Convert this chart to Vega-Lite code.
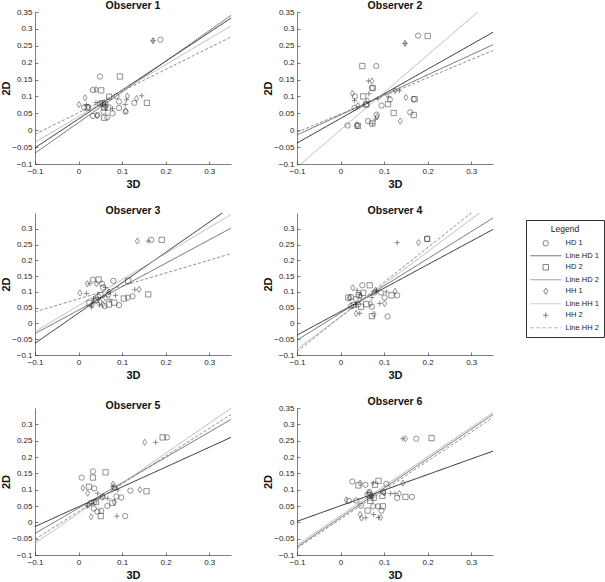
{
 "$schema": "https://vega.github.io/schema/vega-lite/v6.json",
 "background": "white",
 "padding": {"left": 0, "top": 0, "right": 0, "bottom": 0},
 "data": {"values": [
  {"obs":1,"series":"HD 1","x":0.188,"y":0.268},{"obs":1,"series":"HD 1","x":0.049,"y":0.159},{"obs":1,"series":"HD 1","x":0.033,"y":0.119},{"obs":1,"series":"HD 1","x":0.087,"y":0.101},{"obs":1,"series":"HD 1","x":0.128,"y":0.081},{"obs":1,"series":"HD 1","x":0.013,"y":0.067},{"obs":1,"series":"HD 1","x":0.049,"y":0.079},{"obs":1,"series":"HD 1","x":0.057,"y":0.055},{"obs":1,"series":"HD 1","x":0.093,"y":0.085},{"obs":1,"series":"HD 1","x":0.093,"y":0.066},{"obs":1,"series":"HD 1","x":0.078,"y":0.05},{"obs":1,"series":"HD 1","x":0.066,"y":0.038},{"obs":1,"series":"HD 1","x":0.033,"y":0.042},{"obs":1,"series":"HD 1","x":0.043,"y":0.045},{"obs":1,"series":"HD 1","x":0.108,"y":0.055},
  {"obs":1,"series":"HD 2","x":0.095,"y":0.159},{"obs":1,"series":"HD 2","x":0.052,"y":0.118},{"obs":1,"series":"HD 2","x":0.07,"y":0.099},{"obs":1,"series":"HD 2","x":0.157,"y":0.081},{"obs":1,"series":"HD 2","x":0.021,"y":0.067},{"obs":1,"series":"HD 2","x":0.061,"y":0.076},{"obs":1,"series":"HD 2","x":0.059,"y":0.067},{"obs":1,"series":"HD 2","x":0.068,"y":0.067},{"obs":1,"series":"HD 2","x":0.059,"y":0.037},{"obs":1,"series":"HD 2","x":0.055,"y":0.08},
  {"obs":1,"series":"HH 1","x":0.171,"y":0.265},{"obs":1,"series":"HH 1","x":0.04,"y":0.12},{"obs":1,"series":"HH 1","x":0.015,"y":0.096},{"obs":1,"series":"HH 1","x":0.112,"y":0.101},{"obs":1,"series":"HH 1","x":0.133,"y":0.094},{"obs":1,"series":"HH 1","x":0.001,"y":0.076},{"obs":1,"series":"HH 1","x":0.043,"y":0.043},{"obs":1,"series":"HH 1","x":0.108,"y":0.057},{"obs":1,"series":"HH 1","x":0.022,"y":0.068},{"obs":1,"series":"HH 1","x":0.063,"y":0.069},
  {"obs":1,"series":"HH 2","x":0.171,"y":0.265},{"obs":1,"series":"HH 2","x":0.145,"y":0.102},{"obs":1,"series":"HH 2","x":0.018,"y":0.076},{"obs":1,"series":"HH 2","x":0.04,"y":0.082},{"obs":1,"series":"HH 2","x":0.107,"y":0.076},{"obs":1,"series":"HH 2","x":0.078,"y":0.064},{"obs":1,"series":"HH 2","x":0.11,"y":0.09},{"obs":1,"series":"HH 2","x":0.056,"y":0.078},
  {"obs":1,"series":"Line HD 1","x":-0.1,"y":-0.052},{"obs":1,"series":"Line HD 1","x":0.35,"y":0.332},
  {"obs":1,"series":"Line HD 2","x":-0.1,"y":-0.068},{"obs":1,"series":"Line HD 2","x":0.35,"y":0.34},
  {"obs":1,"series":"Line HH 1","x":-0.1,"y":-0.036},{"obs":1,"series":"Line HH 1","x":0.35,"y":0.309},
  {"obs":1,"series":"Line HH 2","x":-0.1,"y":-0.012},{"obs":1,"series":"Line HH 2","x":0.35,"y":0.276},

  {"obs":2,"series":"HD 1","x":0.178,"y":0.28},{"obs":2,"series":"HD 1","x":0.082,"y":0.19},{"obs":2,"series":"HD 1","x":0.072,"y":0.125},{"obs":2,"series":"HD 1","x":0.033,"y":0.1},{"obs":2,"series":"HD 1","x":0.032,"y":0.066},{"obs":2,"series":"HD 1","x":0.059,"y":0.077},{"obs":2,"series":"HD 1","x":0.094,"y":0.073},{"obs":2,"series":"HD 1","x":0.113,"y":0.091},{"obs":2,"series":"HD 1","x":0.168,"y":0.092},{"obs":2,"series":"HD 1","x":0.16,"y":0.053},{"obs":2,"series":"HD 1","x":0.083,"y":0.046},{"obs":2,"series":"HD 1","x":0.063,"y":0.027},{"obs":2,"series":"HD 1","x":0.016,"y":0.014},{"obs":2,"series":"HD 1","x":0.038,"y":0.013},
  {"obs":2,"series":"HD 2","x":0.2,"y":0.279},{"obs":2,"series":"HD 2","x":0.05,"y":0.19},{"obs":2,"series":"HD 2","x":0.074,"y":0.125},{"obs":2,"series":"HD 2","x":0.052,"y":0.1},{"obs":2,"series":"HD 2","x":0.059,"y":0.076},{"obs":2,"series":"HD 2","x":0.109,"y":0.077},{"obs":2,"series":"HD 2","x":0.17,"y":0.092},{"obs":2,"series":"HD 2","x":0.122,"y":0.051},{"obs":2,"series":"HD 2","x":0.168,"y":0.045},{"obs":2,"series":"HD 2","x":0.04,"y":0.013},{"obs":2,"series":"HD 2","x":0.073,"y":0.02},
  {"obs":2,"series":"HH 1","x":0.148,"y":0.257},{"obs":2,"series":"HH 1","x":0.072,"y":0.146},{"obs":2,"series":"HH 1","x":0.027,"y":0.109},{"obs":2,"series":"HH 1","x":0.04,"y":0.073},{"obs":2,"series":"HH 1","x":0.062,"y":0.087},{"obs":2,"series":"HH 1","x":0.125,"y":0.117},{"obs":2,"series":"HH 1","x":0.15,"y":0.097},{"obs":2,"series":"HH 1","x":0.137,"y":0.027},{"obs":2,"series":"HH 1","x":0.084,"y":0.04},{"obs":2,"series":"HH 1","x":0.038,"y":0.017},
  {"obs":2,"series":"HH 2","x":0.148,"y":0.257},{"obs":2,"series":"HH 2","x":0.064,"y":0.146},{"obs":2,"series":"HH 2","x":0.065,"y":0.108},{"obs":2,"series":"HH 2","x":0.032,"y":0.088},{"obs":2,"series":"HH 2","x":0.086,"y":0.093},{"obs":2,"series":"HH 2","x":0.11,"y":0.099},{"obs":2,"series":"HH 2","x":0.135,"y":0.117},{"obs":2,"series":"HH 2","x":0.08,"y":0.033},{"obs":2,"series":"HH 2","x":0.074,"y":0.019},
  {"obs":2,"series":"Line HD 1","x":-0.1,"y":-0.038},{"obs":2,"series":"Line HD 1","x":0.35,"y":0.29},
  {"obs":2,"series":"Line HD 2","x":-0.1,"y":-0.014},{"obs":2,"series":"Line HD 2","x":0.35,"y":0.253},
  {"obs":2,"series":"Line HH 1","x":-0.1,"y":-0.11},{"obs":2,"series":"Line HH 1","x":0.35,"y":0.389},
  {"obs":2,"series":"Line HH 2","x":-0.1,"y":-0.006},{"obs":2,"series":"Line HH 2","x":0.35,"y":0.236},

  {"obs":3,"series":"HD 1","x":0.167,"y":0.265},{"obs":3,"series":"HD 1","x":0.033,"y":0.139},{"obs":3,"series":"HD 1","x":0.054,"y":0.126},{"obs":3,"series":"HD 1","x":0.08,"y":0.135},{"obs":3,"series":"HD 1","x":0.056,"y":0.114},{"obs":3,"series":"HD 1","x":0.093,"y":0.058},{"obs":3,"series":"HD 1","x":0.113,"y":0.082},{"obs":3,"series":"HD 1","x":0.124,"y":0.086},{"obs":3,"series":"HD 1","x":0.045,"y":0.085},{"obs":3,"series":"HD 1","x":0.06,"y":0.055},{"obs":3,"series":"HD 1","x":0.038,"y":0.07},{"obs":3,"series":"HD 1","x":0.068,"y":0.092},
  {"obs":3,"series":"HD 2","x":0.191,"y":0.265},{"obs":3,"series":"HD 2","x":0.046,"y":0.139},{"obs":3,"series":"HD 2","x":0.114,"y":0.135},{"obs":3,"series":"HD 2","x":0.082,"y":0.066},{"obs":3,"series":"HD 2","x":0.104,"y":0.079},{"obs":3,"series":"HD 2","x":0.16,"y":0.092},{"obs":3,"series":"HD 2","x":0.025,"y":0.065},{"obs":3,"series":"HD 2","x":0.05,"y":0.09},{"obs":3,"series":"HD 2","x":0.04,"y":0.075},{"obs":3,"series":"HD 2","x":0.07,"y":0.06},
  {"obs":3,"series":"HH 1","x":0.135,"y":0.261},{"obs":3,"series":"HH 1","x":0.02,"y":0.126},{"obs":3,"series":"HH 1","x":0.041,"y":0.126},{"obs":3,"series":"HH 1","x":0.003,"y":0.097},{"obs":3,"series":"HH 1","x":0.139,"y":0.108},{"obs":3,"series":"HH 1","x":0.05,"y":0.068},{"obs":3,"series":"HH 1","x":0.062,"y":0.08},{"obs":3,"series":"HH 1","x":0.03,"y":0.058},{"obs":3,"series":"HH 1","x":0.07,"y":0.1},{"obs":3,"series":"HH 1","x":0.056,"y":0.06},
  {"obs":3,"series":"HH 2","x":0.16,"y":0.261},{"obs":3,"series":"HH 2","x":0.026,"y":0.126},{"obs":3,"series":"HH 2","x":0.018,"y":0.095},{"obs":3,"series":"HH 2","x":0.085,"y":0.089},{"obs":3,"series":"HH 2","x":0.129,"y":0.107},{"obs":3,"series":"HH 2","x":0.062,"y":0.114},{"obs":3,"series":"HH 2","x":0.035,"y":0.078},{"obs":3,"series":"HH 2","x":0.048,"y":0.058},{"obs":3,"series":"HH 2","x":0.03,"y":0.052},{"obs":3,"series":"HH 2","x":0.072,"y":0.075},
  {"obs":3,"series":"Line HD 1","x":-0.1,"y":-0.063},{"obs":3,"series":"Line HD 1","x":0.35,"y":0.369},
  {"obs":3,"series":"Line HD 2","x":-0.1,"y":-0.032},{"obs":3,"series":"Line HD 2","x":0.35,"y":0.302},
  {"obs":3,"series":"Line HH 1","x":-0.1,"y":-0.026},{"obs":3,"series":"Line HH 1","x":0.35,"y":0.345},
  {"obs":3,"series":"Line HH 2","x":-0.1,"y":0.037},{"obs":3,"series":"Line HH 2","x":0.35,"y":0.221},

  {"obs":4,"series":"HD 1","x":0.199,"y":0.268},{"obs":4,"series":"HD 1","x":0.05,"y":0.121},{"obs":4,"series":"HD 1","x":0.078,"y":0.098},{"obs":4,"series":"HD 1","x":0.093,"y":0.098},{"obs":4,"series":"HD 1","x":0.13,"y":0.089},{"obs":4,"series":"HD 1","x":0.101,"y":0.082},{"obs":4,"series":"HD 1","x":0.024,"y":0.084},{"obs":4,"series":"HD 1","x":0.035,"y":0.078},{"obs":4,"series":"HD 1","x":0.072,"y":0.053},{"obs":4,"series":"HD 1","x":0.024,"y":0.055},{"obs":4,"series":"HD 1","x":0.108,"y":0.022},{"obs":4,"series":"HD 1","x":0.04,"y":0.06},
  {"obs":4,"series":"HD 2","x":0.199,"y":0.268},{"obs":4,"series":"HD 2","x":0.067,"y":0.121},{"obs":4,"series":"HD 2","x":0.052,"y":0.097},{"obs":4,"series":"HD 2","x":0.117,"y":0.089},{"obs":4,"series":"HD 2","x":0.018,"y":0.082},{"obs":4,"series":"HD 2","x":0.059,"y":0.061},{"obs":4,"series":"HD 2","x":0.047,"y":0.053},{"obs":4,"series":"HD 2","x":0.072,"y":0.023},{"obs":4,"series":"HD 2","x":0.042,"y":0.09},{"obs":4,"series":"HD 2","x":0.03,"y":0.058},
  {"obs":4,"series":"HH 1","x":0.179,"y":0.256},{"obs":4,"series":"HH 1","x":0.028,"y":0.113},{"obs":4,"series":"HH 1","x":0.08,"y":0.105},{"obs":4,"series":"HH 1","x":0.125,"y":0.102},{"obs":4,"series":"HH 1","x":0.046,"y":0.086},{"obs":4,"series":"HH 1","x":0.069,"y":0.063},{"obs":4,"series":"HH 1","x":0.101,"y":0.063},{"obs":4,"series":"HH 1","x":0.036,"y":0.032},{"obs":4,"series":"HH 1","x":0.077,"y":0.029},{"obs":4,"series":"HH 1","x":0.02,"y":0.08},
  {"obs":4,"series":"HH 2","x":0.13,"y":0.256},{"obs":4,"series":"HH 2","x":0.038,"y":0.105},{"obs":4,"series":"HH 2","x":0.082,"y":0.103},{"obs":4,"series":"HH 2","x":0.105,"y":0.1},{"obs":4,"series":"HH 2","x":0.043,"y":0.092},{"obs":4,"series":"HH 2","x":0.072,"y":0.082},{"obs":4,"series":"HH 2","x":0.09,"y":0.063},{"obs":4,"series":"HH 2","x":0.044,"y":0.032},{"obs":4,"series":"HH 2","x":0.035,"y":0.06},
  {"obs":4,"series":"Line HD 1","x":-0.1,"y":-0.037},{"obs":4,"series":"Line HD 1","x":0.35,"y":0.298},
  {"obs":4,"series":"Line HD 2","x":-0.1,"y":-0.053},{"obs":4,"series":"Line HD 2","x":0.35,"y":0.334},
  {"obs":4,"series":"Line HH 1","x":-0.1,"y":-0.082},{"obs":4,"series":"Line HH 1","x":0.35,"y":0.382},
  {"obs":4,"series":"Line HH 2","x":-0.1,"y":-0.089},{"obs":4,"series":"Line HH 2","x":0.35,"y":0.405},

  {"obs":5,"series":"HD 1","x":0.203,"y":0.26},{"obs":5,"series":"HD 1","x":0.007,"y":0.137},{"obs":5,"series":"HD 1","x":0.033,"y":0.156},{"obs":5,"series":"HD 1","x":0.036,"y":0.104},{"obs":5,"series":"HD 1","x":0.082,"y":0.107},{"obs":5,"series":"HD 1","x":0.119,"y":0.097},{"obs":5,"series":"HD 1","x":0.055,"y":0.077},{"obs":5,"series":"HD 1","x":0.087,"y":0.079},{"obs":5,"series":"HD 1","x":0.098,"y":0.076},{"obs":5,"series":"HD 1","x":0.066,"y":0.05},{"obs":5,"series":"HD 1","x":0.029,"y":0.06},{"obs":5,"series":"HD 1","x":0.035,"y":0.042},{"obs":5,"series":"HD 1","x":0.043,"y":0.033},{"obs":5,"series":"HD 1","x":0.052,"y":0.035},{"obs":5,"series":"HD 1","x":0.107,"y":0.019},
  {"obs":5,"series":"HD 2","x":0.193,"y":0.26},{"obs":5,"series":"HD 2","x":0.033,"y":0.137},{"obs":5,"series":"HD 2","x":0.062,"y":0.153},{"obs":5,"series":"HD 2","x":0.024,"y":0.109},{"obs":5,"series":"HD 2","x":0.156,"y":0.095},{"obs":5,"series":"HD 2","x":0.051,"y":0.019},{"obs":5,"series":"HD 2","x":0.04,"y":0.062},{"obs":5,"series":"HD 2","x":0.078,"y":0.06},
  {"obs":5,"series":"HH 1","x":0.152,"y":0.245},{"obs":5,"series":"HH 1","x":0.01,"y":0.105},{"obs":5,"series":"HH 1","x":0.021,"y":0.089},{"obs":5,"series":"HH 1","x":0.079,"y":0.117},{"obs":5,"series":"HH 1","x":0.141,"y":0.1},{"obs":5,"series":"HH 1","x":0.082,"y":0.062},{"obs":5,"series":"HH 1","x":0.022,"y":0.053},{"obs":5,"series":"HH 1","x":0.029,"y":0.017},{"obs":5,"series":"HH 1","x":0.038,"y":0.062},{"obs":5,"series":"HH 1","x":0.056,"y":0.08},
  {"obs":5,"series":"HH 2","x":0.177,"y":0.245},{"obs":5,"series":"HH 2","x":0.09,"y":0.099},{"obs":5,"series":"HH 2","x":0.044,"y":0.089},{"obs":5,"series":"HH 2","x":0.067,"y":0.073},{"obs":5,"series":"HH 2","x":0.03,"y":0.058},{"obs":5,"series":"HH 2","x":0.088,"y":0.019},{"obs":5,"series":"HH 2","x":0.02,"y":0.05},{"obs":5,"series":"HH 2","x":0.079,"y":0.11},
  {"obs":5,"series":"Line HD 1","x":-0.1,"y":-0.013},{"obs":5,"series":"Line HD 1","x":0.35,"y":0.26},
  {"obs":5,"series":"Line HD 2","x":-0.1,"y":-0.034},{"obs":5,"series":"Line HD 2","x":0.35,"y":0.315},
  {"obs":5,"series":"Line HH 1","x":-0.1,"y":-0.064},{"obs":5,"series":"Line HH 1","x":0.35,"y":0.349},
  {"obs":5,"series":"Line HH 2","x":-0.1,"y":-0.052},{"obs":5,"series":"Line HH 2","x":0.35,"y":0.33},

  {"obs":6,"series":"HD 1","x":0.174,"y":0.256},{"obs":6,"series":"HD 1","x":0.027,"y":0.125},{"obs":6,"series":"HD 1","x":0.057,"y":0.115},{"obs":6,"series":"HD 1","x":0.105,"y":0.118},{"obs":6,"series":"HD 1","x":0.066,"y":0.093},{"obs":6,"series":"HD 1","x":0.098,"y":0.093},{"obs":6,"series":"HD 1","x":0.13,"y":0.075},{"obs":6,"series":"HD 1","x":0.164,"y":0.078},{"obs":6,"series":"HD 1","x":0.019,"y":0.066},{"obs":6,"series":"HD 1","x":0.036,"y":0.067},{"obs":6,"series":"HD 1","x":0.047,"y":0.051},{"obs":6,"series":"HD 1","x":0.075,"y":0.049},{"obs":6,"series":"HD 1","x":0.086,"y":0.049},{"obs":6,"series":"HD 1","x":0.094,"y":0.036},{"obs":6,"series":"HD 1","x":0.062,"y":0.085},
  {"obs":6,"series":"HD 2","x":0.209,"y":0.258},{"obs":6,"series":"HD 2","x":0.041,"y":0.113},{"obs":6,"series":"HD 2","x":0.079,"y":0.115},{"obs":6,"series":"HD 2","x":0.087,"y":0.127},{"obs":6,"series":"HD 2","x":0.067,"y":0.083},{"obs":6,"series":"HD 2","x":0.068,"y":0.066},{"obs":6,"series":"HD 2","x":0.149,"y":0.078},{"obs":6,"series":"HD 2","x":0.096,"y":0.081},{"obs":6,"series":"HD 2","x":0.097,"y":0.049},{"obs":6,"series":"HD 2","x":0.062,"y":0.036},{"obs":6,"series":"HD 2","x":0.076,"y":0.075},
  {"obs":6,"series":"HH 1","x":0.149,"y":0.256},{"obs":6,"series":"HH 1","x":0.045,"y":0.12},{"obs":6,"series":"HH 1","x":0.143,"y":0.12},{"obs":6,"series":"HH 1","x":0.073,"y":0.078},{"obs":6,"series":"HH 1","x":0.1,"y":0.09},{"obs":6,"series":"HH 1","x":0.135,"y":0.088},{"obs":6,"series":"HH 1","x":0.013,"y":0.069},{"obs":6,"series":"HH 1","x":0.045,"y":0.024},{"obs":6,"series":"HH 1","x":0.048,"y":0.013},{"obs":6,"series":"HH 1","x":0.092,"y":0.015},{"obs":6,"series":"HH 1","x":0.066,"y":0.09},
  {"obs":6,"series":"HH 2","x":0.143,"y":0.256},{"obs":6,"series":"HH 2","x":0.075,"y":0.12},{"obs":6,"series":"HH 2","x":0.115,"y":0.088},{"obs":6,"series":"HH 2","x":0.125,"y":0.088},{"obs":6,"series":"HH 2","x":0.058,"y":0.014},{"obs":6,"series":"HH 2","x":0.076,"y":0.024},{"obs":6,"series":"HH 2","x":0.087,"y":0.015},{"obs":6,"series":"HH 2","x":0.07,"y":0.08},
  {"obs":6,"series":"Line HD 1","x":-0.1,"y":0.003},{"obs":6,"series":"Line HD 1","x":0.35,"y":0.218},
  {"obs":6,"series":"Line HD 2","x":-0.1,"y":-0.075},{"obs":6,"series":"Line HD 2","x":0.35,"y":0.33},
  {"obs":6,"series":"Line HH 1","x":-0.1,"y":-0.069},{"obs":6,"series":"Line HH 1","x":0.35,"y":0.336},
  {"obs":6,"series":"Line HH 2","x":-0.1,"y":-0.079},{"obs":6,"series":"Line HH 2","x":0.35,"y":0.321}
 ]},
 "spacing": 16,
 "resolve": {"scale": {"shape": "shared", "stroke": "shared"}, "legend": {"shape": "shared", "stroke": "shared"}},
 "vconcat": [
  {"spacing": 31, "hconcat": [
   {"width": 196, "height": 152, "title": "Observer 1", "transform": [{"filter": "datum.obs == 1"}],
    "encoding": {
     "x": {"field": "x", "type": "quantitative", "scale": {"domain": [-0.1, 0.35], "nice": false, "zero": false}, "axis": {"values": [-0.1, 0, 0.1, 0.2, 0.3], "title": "3D"}},
     "y": {"field": "y", "type": "quantitative", "scale": {"domain": [-0.1, 0.35], "nice": false, "zero": false}, "axis": {"values": [-0.1, -0.05, 0, 0.05, 0.1, 0.15, 0.2, 0.25, 0.3, 0.35], "title": "2D"}},
     "stroke": {"field": "series", "type": "nominal", "title": "Legend", "scale": {"domain": ["HD 1", "Line HD 1", "HD 2", "Line HD 2", "HH 1", "Line HH 1", "HH 2", "Line HH 2"], "range": ["#222222", "#111111", "#222222", "#5a5a5a", "#222222", "#b0b0b0", "#222222", "#808080"]}}
    },
    "layer": [
     {"transform": [{"filter": "indexof(datum.series, 'Line') == 0"}], "mark": {"type": "line", "clip": true, "strokeWidth": 0.9}, "encoding": {"strokeDash": {"condition": {"test": "datum.series == 'Line HH 2'", "value": [3, 2]}, "value": [1, 0]}}},
     {"transform": [{"filter": "indexof(datum.series, 'Line') < 0"}], "mark": {"type": "point", "filled": false, "size": 28, "strokeWidth": 0.7}, "encoding": {"shape": {"field": "series", "type": "nominal", "title": "Legend", "scale": {"domain": ["HD 1", "Line HD 1", "HD 2", "Line HD 2", "HH 1", "Line HH 1", "HH 2", "Line HH 2"], "range": ["circle", "M-5.7,0H5.7", "square", "M-5.7,0H5.7", "M0,-1.15L0.75,0L0,1.15L-0.75,0Z", "M-5.7,0H5.7", "M-1,0H1M0,-1V1", "M-5.7,0H-4.3M-3.5,0H-2.1M-1.3,0H0.1M0.9,0H2.3M3.1,0H4.5M5.3,0H5.7"]}}}}
    ]},
   {"width": 196, "height": 152, "title": "Observer 2", "transform": [{"filter": "datum.obs == 2"}],
    "encoding": {
     "x": {"field": "x", "type": "quantitative", "scale": {"domain": [-0.1, 0.35], "nice": false, "zero": false}, "axis": {"values": [-0.1, 0, 0.1, 0.2, 0.3], "title": "3D"}},
     "y": {"field": "y", "type": "quantitative", "scale": {"domain": [-0.1, 0.35], "nice": false, "zero": false}, "axis": {"values": [-0.1, -0.05, 0, 0.05, 0.1, 0.15, 0.2, 0.25, 0.3, 0.35], "title": "2D"}},
     "stroke": {"field": "series", "type": "nominal", "title": "Legend", "scale": {"domain": ["HD 1", "Line HD 1", "HD 2", "Line HD 2", "HH 1", "Line HH 1", "HH 2", "Line HH 2"], "range": ["#222222", "#111111", "#222222", "#5a5a5a", "#222222", "#b0b0b0", "#222222", "#808080"]}}
    },
    "layer": [
     {"transform": [{"filter": "indexof(datum.series, 'Line') == 0"}], "mark": {"type": "line", "clip": true, "strokeWidth": 0.9}, "encoding": {"strokeDash": {"condition": {"test": "datum.series == 'Line HH 2'", "value": [3, 2]}, "value": [1, 0]}}},
     {"transform": [{"filter": "indexof(datum.series, 'Line') < 0"}], "mark": {"type": "point", "filled": false, "size": 28, "strokeWidth": 0.7}, "encoding": {"shape": {"field": "series", "type": "nominal", "title": "Legend", "scale": {"domain": ["HD 1", "Line HD 1", "HD 2", "Line HD 2", "HH 1", "Line HH 1", "HH 2", "Line HH 2"], "range": ["circle", "M-5.7,0H5.7", "square", "M-5.7,0H5.7", "M0,-1.15L0.75,0L0,1.15L-0.75,0Z", "M-5.7,0H5.7", "M-1,0H1M0,-1V1", "M-5.7,0H-4.3M-3.5,0H-2.1M-1.3,0H0.1M0.9,0H2.3M3.1,0H4.5M5.3,0H5.7"]}}}}
    ]}
  ]},
  {"spacing": 31, "hconcat": [
   {"width": 196, "height": 142, "title": "Observer 3", "transform": [{"filter": "datum.obs == 3"}],
    "encoding": {
     "x": {"field": "x", "type": "quantitative", "scale": {"domain": [-0.1, 0.35], "nice": false, "zero": false}, "axis": {"values": [-0.1, 0, 0.1, 0.2, 0.3], "title": "3D"}},
     "y": {"field": "y", "type": "quantitative", "scale": {"domain": [-0.1, 0.35], "nice": false, "zero": false}, "axis": {"values": [-0.1, -0.05, 0, 0.05, 0.1, 0.15, 0.2, 0.25, 0.3], "title": "2D"}},
     "stroke": {"field": "series", "type": "nominal", "title": "Legend", "scale": {"domain": ["HD 1", "Line HD 1", "HD 2", "Line HD 2", "HH 1", "Line HH 1", "HH 2", "Line HH 2"], "range": ["#222222", "#111111", "#222222", "#5a5a5a", "#222222", "#b0b0b0", "#222222", "#808080"]}}
    },
    "layer": [
     {"transform": [{"filter": "indexof(datum.series, 'Line') == 0"}], "mark": {"type": "line", "clip": true, "strokeWidth": 0.9}, "encoding": {"strokeDash": {"condition": {"test": "datum.series == 'Line HH 2'", "value": [3, 2]}, "value": [1, 0]}}},
     {"transform": [{"filter": "indexof(datum.series, 'Line') < 0"}], "mark": {"type": "point", "filled": false, "size": 28, "strokeWidth": 0.7}, "encoding": {"shape": {"field": "series", "type": "nominal", "title": "Legend", "scale": {"domain": ["HD 1", "Line HD 1", "HD 2", "Line HD 2", "HH 1", "Line HH 1", "HH 2", "Line HH 2"], "range": ["circle", "M-5.7,0H5.7", "square", "M-5.7,0H5.7", "M0,-1.15L0.75,0L0,1.15L-0.75,0Z", "M-5.7,0H5.7", "M-1,0H1M0,-1V1", "M-5.7,0H-4.3M-3.5,0H-2.1M-1.3,0H0.1M0.9,0H2.3M3.1,0H4.5M5.3,0H5.7"]}}}}
    ]},
   {"width": 196, "height": 142, "title": "Observer 4", "transform": [{"filter": "datum.obs == 4"}],
    "encoding": {
     "x": {"field": "x", "type": "quantitative", "scale": {"domain": [-0.1, 0.35], "nice": false, "zero": false}, "axis": {"values": [-0.1, 0, 0.1, 0.2, 0.3], "title": "3D"}},
     "y": {"field": "y", "type": "quantitative", "scale": {"domain": [-0.1, 0.35], "nice": false, "zero": false}, "axis": {"values": [-0.1, -0.05, 0, 0.05, 0.1, 0.15, 0.2, 0.25, 0.3], "title": "2D"}},
     "stroke": {"field": "series", "type": "nominal", "title": "Legend", "scale": {"domain": ["HD 1", "Line HD 1", "HD 2", "Line HD 2", "HH 1", "Line HH 1", "HH 2", "Line HH 2"], "range": ["#222222", "#111111", "#222222", "#5a5a5a", "#222222", "#b0b0b0", "#222222", "#808080"]}}
    },
    "layer": [
     {"transform": [{"filter": "indexof(datum.series, 'Line') == 0"}], "mark": {"type": "line", "clip": true, "strokeWidth": 0.9}, "encoding": {"strokeDash": {"condition": {"test": "datum.series == 'Line HH 2'", "value": [3, 2]}, "value": [1, 0]}}},
     {"transform": [{"filter": "indexof(datum.series, 'Line') < 0"}], "mark": {"type": "point", "filled": false, "size": 28, "strokeWidth": 0.7}, "encoding": {"shape": {"field": "series", "type": "nominal", "title": "Legend", "scale": {"domain": ["HD 1", "Line HD 1", "HD 2", "Line HD 2", "HH 1", "Line HH 1", "HH 2", "Line HH 2"], "range": ["circle", "M-5.7,0H5.7", "square", "M-5.7,0H5.7", "M0,-1.15L0.75,0L0,1.15L-0.75,0Z", "M-5.7,0H5.7", "M-1,0H1M0,-1V1", "M-5.7,0H-4.3M-3.5,0H-2.1M-1.3,0H0.1M0.9,0H2.3M3.1,0H4.5M5.3,0H5.7"]}}}}
    ]}
  ]},
  {"spacing": 31, "hconcat": [
   {"width": 196, "height": 147, "title": "Observer 5", "transform": [{"filter": "datum.obs == 5"}],
    "encoding": {
     "x": {"field": "x", "type": "quantitative", "scale": {"domain": [-0.1, 0.35], "nice": false, "zero": false}, "axis": {"values": [-0.1, 0, 0.1, 0.2, 0.3], "title": "3D"}},
     "y": {"field": "y", "type": "quantitative", "scale": {"domain": [-0.1, 0.35], "nice": false, "zero": false}, "axis": {"values": [-0.1, -0.05, 0, 0.05, 0.1, 0.15, 0.2, 0.25, 0.3], "title": "2D"}},
     "stroke": {"field": "series", "type": "nominal", "title": "Legend", "scale": {"domain": ["HD 1", "Line HD 1", "HD 2", "Line HD 2", "HH 1", "Line HH 1", "HH 2", "Line HH 2"], "range": ["#222222", "#111111", "#222222", "#5a5a5a", "#222222", "#b0b0b0", "#222222", "#808080"]}}
    },
    "layer": [
     {"transform": [{"filter": "indexof(datum.series, 'Line') == 0"}], "mark": {"type": "line", "clip": true, "strokeWidth": 0.9}, "encoding": {"strokeDash": {"condition": {"test": "datum.series == 'Line HH 2'", "value": [3, 2]}, "value": [1, 0]}}},
     {"transform": [{"filter": "indexof(datum.series, 'Line') < 0"}], "mark": {"type": "point", "filled": false, "size": 28, "strokeWidth": 0.7}, "encoding": {"shape": {"field": "series", "type": "nominal", "title": "Legend", "scale": {"domain": ["HD 1", "Line HD 1", "HD 2", "Line HD 2", "HH 1", "Line HH 1", "HH 2", "Line HH 2"], "range": ["circle", "M-5.7,0H5.7", "square", "M-5.7,0H5.7", "M0,-1.15L0.75,0L0,1.15L-0.75,0Z", "M-5.7,0H5.7", "M-1,0H1M0,-1V1", "M-5.7,0H-4.3M-3.5,0H-2.1M-1.3,0H0.1M0.9,0H2.3M3.1,0H4.5M5.3,0H5.7"]}}}}
    ]},
   {"width": 196, "height": 147, "title": "Observer 6", "transform": [{"filter": "datum.obs == 6"}],
    "encoding": {
     "x": {"field": "x", "type": "quantitative", "scale": {"domain": [-0.1, 0.35], "nice": false, "zero": false}, "axis": {"values": [-0.1, 0, 0.1, 0.2, 0.3], "title": "3D"}},
     "y": {"field": "y", "type": "quantitative", "scale": {"domain": [-0.1, 0.35], "nice": false, "zero": false}, "axis": {"values": [-0.1, -0.05, 0, 0.05, 0.1, 0.15, 0.2, 0.25, 0.3, 0.35], "title": "2D"}},
     "stroke": {"field": "series", "type": "nominal", "title": "Legend", "scale": {"domain": ["HD 1", "Line HD 1", "HD 2", "Line HD 2", "HH 1", "Line HH 1", "HH 2", "Line HH 2"], "range": ["#222222", "#111111", "#222222", "#5a5a5a", "#222222", "#b0b0b0", "#222222", "#808080"]}}
    },
    "layer": [
     {"transform": [{"filter": "indexof(datum.series, 'Line') == 0"}], "mark": {"type": "line", "clip": true, "strokeWidth": 0.9}, "encoding": {"strokeDash": {"condition": {"test": "datum.series == 'Line HH 2'", "value": [3, 2]}, "value": [1, 0]}}},
     {"transform": [{"filter": "indexof(datum.series, 'Line') < 0"}], "mark": {"type": "point", "filled": false, "size": 28, "strokeWidth": 0.7}, "encoding": {"shape": {"field": "series", "type": "nominal", "title": "Legend", "scale": {"domain": ["HD 1", "Line HD 1", "HD 2", "Line HD 2", "HH 1", "Line HH 1", "HH 2", "Line HH 2"], "range": ["circle", "M-5.7,0H5.7", "square", "M-5.7,0H5.7", "M0,-1.15L0.75,0L0,1.15L-0.75,0Z", "M-5.7,0H5.7", "M-1,0H1M0,-1V1", "M-5.7,0H-4.3M-3.5,0H-2.1M-1.3,0H0.1M0.9,0H2.3M3.1,0H4.5M5.3,0H5.7"]}}}}
    ]}
  ]}
 ],
 "config": {
  "font": "Liberation Sans",
  "view": {"stroke": null},
  "title": {"fontSize": 10.5, "fontWeight": "bold", "offset": -3, "color": "#111111"},
  "axis": {"grid": false, "domainColor": "#262626", "domainWidth": 0.6, "tickColor": "#262626", "tickWidth": 0.6, "tickSize": -3, "labelPadding": 6, "labelFontSize": 8, "labelColor": "#262626", "labelFlush": false, "titleFontSize": 11, "titleFontWeight": "bold", "titleColor": "#111111", "format": "~g"},
  "axisX": {"titlePadding": 3},
  "axisY": {"titlePadding": 0},
  "legend": {"orient": "none", "legendX": 491, "legendY": 208, "strokeColor": "#333333", "padding": 5, "titleFontSize": 8.5, "titleFontWeight": "normal", "titleAnchor": "middle", "titlePadding": 6, "titleColor": "#222222", "labelFontSize": 7.5, "labelColor": "#222222", "symbolSize": 30, "symbolStrokeWidth": 0.8, "symbolOffset": 11, "labelOffset": 16, "rowPadding": 2.5, "symbolFillColor": "transparent"}
 }
}
